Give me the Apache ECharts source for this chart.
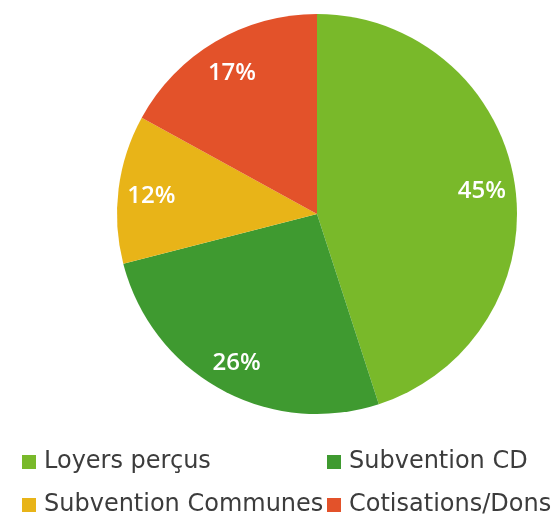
<!DOCTYPE html>
<html><head><meta charset="utf-8">
<script src="https://cdn.jsdelivr.net/npm/echarts@6/dist/echarts.min.js"></script>
<style>html,body{margin:0;padding:0;background:#fff}#c{width:554px;height:518px}</style>
</head><body><div id="c"></div>
<script>
const categories = ['Loyers perçus', 'Subvention CD', 'Subvention Communes', 'Cotisations/Dons'];
const values = [45, 26, 12, 17];
const colors = ['#79b92a', '#3f9a30', '#e8b418', '#e3522a'];

const data = categories.map((n, i) => ({ name: n, value: values[i], itemStyle: { color: colors[i] } }));
const labelData = categories.map((n, i) => ({ name: n, value: values[i] }));

const legendLefts = [22, 327, 22, 327];
const legendTops = [450, 450, 493, 493];

const chart = echarts.init(document.getElementById('c'));
const legends = categories.map((n, i) => ({
  orient: 'horizontal', itemWidth: 14, itemHeight: 14, icon: 'rect',
  textStyle: { fontFamily: 'DejaVu Sans', fontSize: 24, color: '#3c3c3c', padding: [0, 0, 0, 3] },
  left: legendLefts[i], top: legendTops[i], padding: 0, data: [n]
}));
chart.setOption({
  animation: false,
  backgroundColor: '#fff',
  legend: legends,
  series: [
    {
      type: 'pie', center: [317, 214], radius: [0, 200], startAngle: 90, clockwise: true,
      data: data, label: { show: false }, labelLine: { show: false }, silent: true
    },
    {
      type: 'pie', center: [317, 217], radius: [128, 200], startAngle: 90, clockwise: true,
      data: labelData, silent: true,
      itemStyle: { color: 'rgba(0,0,0,0)' },
      label: { show: true, position: 'inside', formatter: '{c}%', color: '#fff',
        fontFamily: 'Open Sans', fontWeight: 600, fontSize: 24 },
      labelLine: { show: false }
    }
  ]
});
</script></body></html>
